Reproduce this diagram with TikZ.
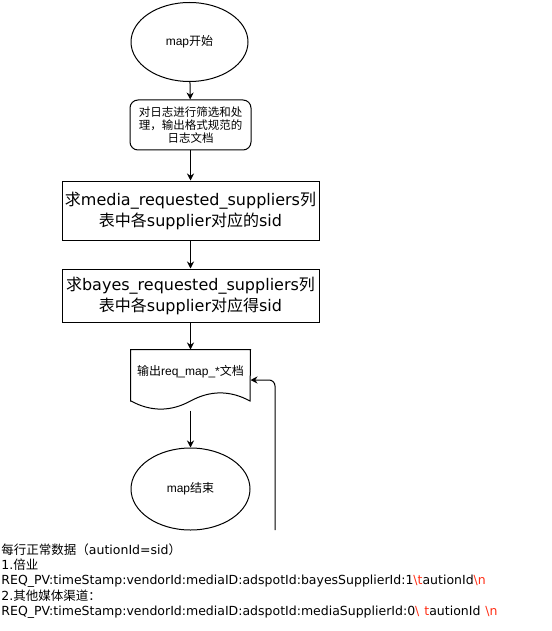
\documentclass[tikz,border=0pt]{standalone}
\usepackage{fontspec}
\usepackage{xcolor}
\usepackage{tikz}
\usetikzlibrary{arrows.meta}
\usetikzlibrary{shapes.geometric}
\setmainfont{Liberation Sans}
\newfontfamily\wide{DejaVu Sans}
\newfontfamily\cjk{Noto Sans CJK SC}
\newcommand{\zh}[1]{{\cjk #1}}
\definecolor{escred}{RGB}{255,45,20}
\newcommand{\esc}[1]{\textcolor{escred}{\textbackslash #1}}

\begin{document}
\begin{tikzpicture}[x=1pt,y=-1pt,line width=1pt,
    flow/.style={-{Stealth[length=7pt,width=7pt]}},
    terminal/.style={ellipse,draw,inner sep=0pt,font=\fontsize{12}{14}\selectfont},
    stepbox/.style={rectangle,draw,inner sep=0pt,align=center}]
                \useasboundingbox (0,0) rectangle (551,631);
                % start and end
                \node[terminal,minimum width=117pt,minimum height=79pt] (start) at (189.5,42) {map\zh{开始}};
                \node[terminal,minimum width=119pt,minimum height=82pt] (finish) at (190.5,489) {map\zh{结束}};
                % processing steps
                \node[stepbox,rounded corners=8pt,minimum width=121pt,minimum height=50pt,
                      font=\fontsize{11.5}{13}\selectfont\cjk] (clean) at (190.5,125)
                      {对日志进行筛选和处\\理，输出格式规范的\\日志文档};
                \node[stepbox,minimum width=257pt,minimum height=59pt,font=\fontsize{16}{21}\selectfont\wide] (media) at (190.5,210.5)
                      {\zh{求}media\_requested\_suppliers\zh{列}\\\zh{表中各}supplier\zh{对应的}sid};
                \node[stepbox,minimum width=257pt,minimum height=53pt,font=\fontsize{16}{21}\selectfont\wide] (bayes) at (190.5,295.5)
                      {\zh{求}bayes\_requested\_suppliers\zh{列}\\\zh{表中各}supplier\zh{对应得}sid};
                % output document
                \node[minimum width=119pt,minimum height=60pt,inner sep=0pt,
                      label={[font=\fontsize{12}{14}\selectfont,yshift=8pt]center:\zh{输出}req\_map\_*\zh{文档}}] (doc) at (190.5,380) {};
                \draw (doc.south west) ++(0,-9) -- (doc.north west) -- (doc.north east) -- (250,401)
                    .. controls (230.17,390.2) and (210.33,390.2) .. (190.5,401)
                    .. controls (170.67,411.8) and (150.83,411.8) .. (131,401);
                \coordinate (loop) at (275,530);
                % arrows
                \draw[flow] (start) -- (clean);
                \draw[flow] (clean) -- (media);
                \draw[flow] (media) -- (bayes);
                \draw[flow] (bayes) -- (doc.north);
                \draw[flow] (doc.south) -- (finish);
                \draw[flow,rounded corners=6pt] (loop) |- (doc.east);
                % record format
                \node[anchor=north west,align=left,inner sep=0pt,font=\fontsize{12.5}{15.3}\selectfont\wide] (format) at (1,543)
                      {\zh{每行正常数据（}autionId=sid\zh{）}\\
                       1.\zh{倍业}\\
                       REQ\_PV:timeStamp:vendorId:mediaID:adspotId:bayesSupplierId:1\esc{t}autionId\esc{n}\\
                       2.\zh{其他媒体渠道：}\\
                       REQ\_PV:timeStamp:vendorId:mediaID:adspotId:mediaSupplierId:0\esc{\hspace{5pt}t}autionId\hspace{5pt}\esc{n}};
            \end{tikzpicture}
\end{document}
